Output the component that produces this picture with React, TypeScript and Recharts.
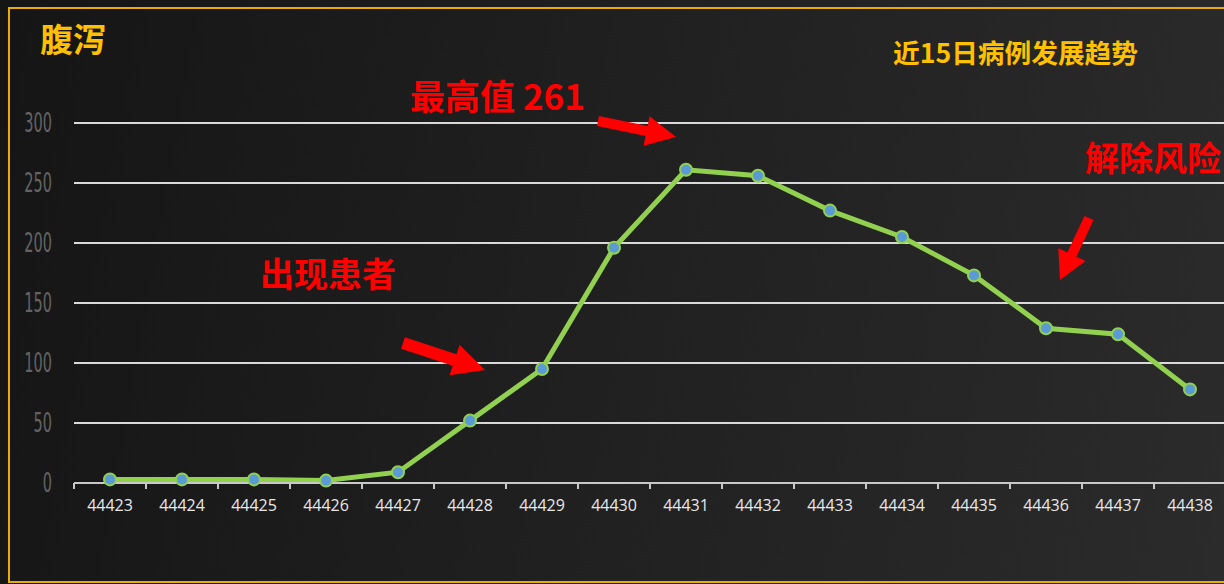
import { LineChart, Line, XAxis, YAxis, CartesianGrid } from "recharts";

// 日期序号 (Excel 序列值)
const days = [
  "44423", "44424", "44425", "44426", "44427", "44428", "44429", "44430",
  "44431", "44432", "44433", "44434", "44435", "44436", "44437", "44438",
];
const cases = [3, 3, 3, 2, 9, 52, 95, 196, 261, 256, 227, 205, 173, 129, 124, 78];
const yTicks = [0, 50, 100, 150, 200, 250, 300];

const data = days.map((d, i) => ({ day: d, cases: cases[i] }));

const W = 1224;
const H = 584;
const BAND = 72; // 每个分类的宽度

type Pt = [number, number];

// 红色箭头的多边形
function arrowPoints(t: Pt, h: Pt, w: number, hw: number, hl: number): string {
  const dx = h[0] - t[0];
  const dy = h[1] - t[1];
  const len = Math.hypot(dx, dy);
  const ux = dx / len;
  const uy = dy / len;
  const nx = -uy;
  const ny = ux;
  const bx = h[0] - ux * hl;
  const by = h[1] - uy * hl;
  const pts: Pt[] = [
    [t[0] + nx * w, t[1] + ny * w],
    [bx + nx * w, by + ny * w],
    [bx + nx * hw, by + ny * hw],
    h,
    [bx - nx * hw, by - ny * hw],
    [bx - nx * w, by - ny * w],
    [t[0] - nx * w, t[1] - ny * w],
  ];
  return pts.map((p) => `${p[0].toFixed(1)},${p[1].toFixed(1)}`).join(" ");
}

// eslint-disable-next-line @typescript-eslint/no-explicit-any
function XTick({ x, y, payload }: any) {
  return (
    <g>
      <line x1={x - BAND / 2} x2={x - BAND / 2} y1={y} y2={y + 6} stroke="#c8c8c8" strokeWidth={2} />
      <text
        x={x}
        y={y + 28}
        textAnchor="middle"
        fill="#e8e8e8"
        fontSize={16}
        fontFamily="'Open Sans', 'Noto Sans', sans-serif"
      >
        {payload.value}
      </text>
    </g>
  );
}

// eslint-disable-next-line @typescript-eslint/no-explicit-any
function YTick({ x, y, payload }: any) {
  return (
    <text
      transform={`translate(${x},${y + 9}) scale(0.62,1)`}
      textAnchor="end"
      fill="#636363"
      fontSize={26}
      fontFamily="'DejaVu Sans Condensed', 'DejaVu Sans', sans-serif"
      fontWeight={300}
    >
      {payload.value}
    </text>
  );
}

const redText = {
  position: "absolute" as const,
  color: "#ff0000",
  fontWeight: 700,
  fontFamily: "'Noto Sans CJK SC', sans-serif",
  lineHeight: 1,
  whiteSpace: "nowrap" as const,
};

export default function App() {
  return (
    <div
      style={{
        position: "absolute",
        left: 0,
        top: 0,
        width: W,
        height: H,
        overflow: "hidden",
        background: "linear-gradient(100deg, #151515 0%, #1e1e1e 40%, #2b2b2b 100%)",
      }}
    >
      <div
        style={{
          position: "absolute",
          left: 8,
          top: 7,
          width: 1240,
          height: 572,
          border: "2px solid #e8ad00",
        }}
      />
      <div
        style={{
          position: "absolute",
          left: 40,
          top: 22,
          color: "#ffc000",
          fontSize: 33,
          fontWeight: 700,
          fontFamily: "'Noto Sans CJK SC', sans-serif",
          lineHeight: 1,
        }}
      >
        腹泻
      </div>
      <div
        style={{
          position: "absolute",
          left: 893,
          top: 39,
          color: "#ffc000",
          fontSize: 26.7,
          fontWeight: 700,
          fontFamily: "'Noto Sans CJK SC', sans-serif",
          lineHeight: 1,
          whiteSpace: "nowrap",
        }}
      >
        近15日病例发展趋势
      </div>

      <div style={{ position: "absolute", left: 0, top: 0 }}>
        <LineChart
          width={W}
          height={H}
          data={data}
          margin={{ top: 123, right: -2, bottom: 71, left: 14 }}
        >
          <CartesianGrid vertical={false} stroke="#d9d9d9" strokeWidth={2} />
          <XAxis
            dataKey="day"
            height={30}
            padding={{ left: BAND / 2, right: BAND / 2 }}
            axisLine={{ stroke: "#c8c8c8", strokeWidth: 2 }}
            tickLine={false}
            tickSize={0}
            tickMargin={0}
            interval={0}
            tick={<XTick />}
          />
          <YAxis
            width={60}
            domain={[0, 300]}
            ticks={yTicks}
            axisLine={false}
            tickLine={false}
            tickSize={0}
            tickMargin={22}
            tick={<YTick />}
          />
          <Line
            type="linear"
            dataKey="cases"
            stroke="#92d050"
            strokeWidth={5}
            dot={{ r: 6, fill: "#5b9bd5", stroke: "#92d050", strokeWidth: 2 }}
            isAnimationActive={false}
          />
        </LineChart>
      </div>

      <svg
        width={W}
        height={H}
        style={{ position: "absolute", left: 0, top: 0, pointerEvents: "none" }}
      >
        <polygon points={arrowPoints([598, 121], [676, 137], 5, 15, 30)} fill="#ff0000" />
        <polygon points={arrowPoints([403, 343], [485, 370], 6, 16, 32)} fill="#ff0000" />
        <polygon points={arrowPoints([1089, 218], [1060, 280], 5, 15, 28)} fill="#ff0000" />
      </svg>

      <div style={{ ...redText, left: 410, top: 77, fontSize: 35 }}>最高值 261</div>
      <div style={{ ...redText, left: 260, top: 256, fontSize: 34 }}>出现患者</div>
      <div style={{ ...redText, left: 1085, top: 140, fontSize: 34 }}>解除风险</div>
    </div>
  );
}
